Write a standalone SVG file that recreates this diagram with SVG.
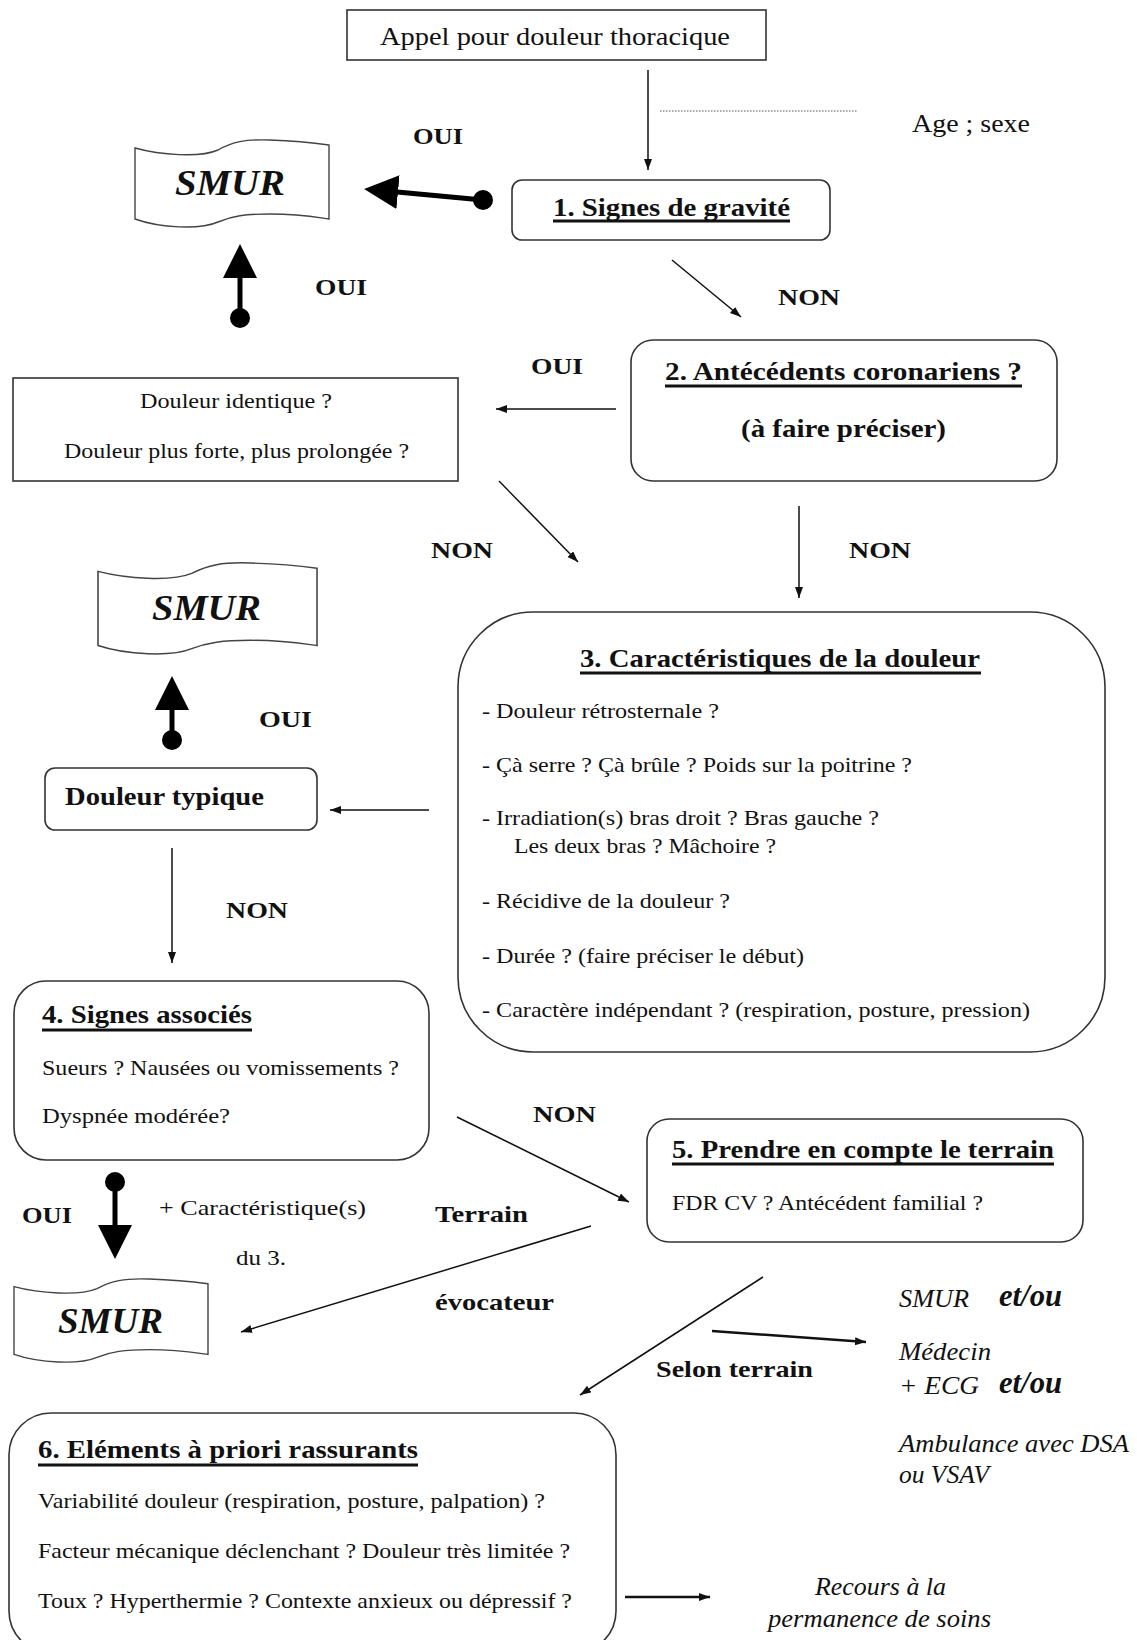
<svg xmlns="http://www.w3.org/2000/svg" width="1137" height="1640" viewBox="0 0 1137 1640">
<style>
text{font-family:"Liberation Serif","Times New Roman",serif;fill:#111}
.r{font-size:22px}
.b{font-size:25px;font-weight:bold}
.l{font-size:24px;font-weight:bold}
.it{font-size:25px;font-style:italic}
.eo{font-size:31px;font-style:italic;font-weight:bold}
.sm{font-size:36px;font-style:italic;font-weight:bold}
.box{fill:#fff;stroke:#333;stroke-width:1.6}
.flag{fill:#fff;stroke:#444;stroke-width:1.4}
.ul{stroke:#111;stroke-width:3}
.c{fill:none;stroke:#111;stroke-width:1.5}
.c2{fill:none;stroke:#111;stroke-width:2.4}
.tk{fill:none;stroke:#000;stroke-width:5}
.dot{fill:#000}
</style>
<defs>
<marker id="ah" markerUnits="userSpaceOnUse" markerWidth="12" markerHeight="10" refX="11" refY="4" orient="auto"><path d="M0,0 L11,4 L0,8 z" fill="#111"/></marker>
<marker id="th" markerUnits="userSpaceOnUse" markerWidth="36" markerHeight="36" refX="1" refY="17" orient="auto"><path d="M0,0 L34,17 L0,34 z" fill="#000"/></marker>
<path id="flagshape" d="M0,8 C25,15 65,18 83,10 C97,2 110,-1 135,0 C165,1 180,3 194,5 L194,79 C180,77 165,74 135,74 C110,74 97,76 83,82 C65,90 25,88 0,79 Z"/>
</defs>
<rect width="1137" height="1640" fill="#fff"/>

<g id="start">
<rect class="box" x="347" y="10" width="419" height="50"/>
<text class="r" style="font-size:26px" x="380" y="45" textLength="350" lengthAdjust="spacingAndGlyphs">Appel pour douleur thoracique</text>
</g>

<g id="age">
<text class="r" style="font-size:25px" x="912" y="132" textLength="118" lengthAdjust="spacingAndGlyphs">Age ; sexe</text>
</g>

<g id="n1">
<rect class="box" x="512" y="180" width="318" height="60" rx="10"/>
<text class="b" x="553" y="216" textLength="237" lengthAdjust="spacingAndGlyphs">1. Signes de gravité</text>
<line class="ul" x1="553" y1="221" x2="790" y2="221"/>
</g>

<g id="smur1">
<use href="#flagshape" class="flag" transform="translate(135,140)"/>
<text class="sm" x="175" y="195" textLength="110" lengthAdjust="spacingAndGlyphs">SMUR</text>
</g>

<g id="n2">
<rect class="box" x="631" y="340" width="426" height="141" rx="22"/>
<text class="b" x="665" y="380" textLength="357" lengthAdjust="spacingAndGlyphs">2. Antécédents coronariens ?</text>
<line class="ul" x1="665" y1="386" x2="1022" y2="386"/>
<text class="b" x="741" y="437" textLength="205" lengthAdjust="spacingAndGlyphs">(à faire préciser)</text>
</g>

<g id="identique">
<rect class="box" x="13" y="378" width="445" height="103"/>
<text class="r" style="font-size:21px" x="140" y="408" textLength="192" lengthAdjust="spacingAndGlyphs">Douleur identique ?</text>
<text class="r" style="font-size:21px" x="64" y="458" textLength="345" lengthAdjust="spacingAndGlyphs">Douleur plus forte, plus prolongée ?</text>
</g>

<g id="smur2">
<use href="#flagshape" class="flag" transform="translate(98,563) scale(1.129,1.045)" style="vector-effect:non-scaling-stroke"/>
<text class="sm" x="152" y="620" textLength="109" lengthAdjust="spacingAndGlyphs">SMUR</text>
</g>

<g id="n3">
<rect class="box" x="458" y="612" width="647" height="440" rx="75"/>
<text class="b" x="580" y="667" textLength="400" lengthAdjust="spacingAndGlyphs">3. Caractéristiques de la douleur</text>
<line class="ul" x1="580" y1="673" x2="981" y2="673"/>
<text class="r" x="482" y="718" textLength="237" lengthAdjust="spacingAndGlyphs">- Douleur rétrosternale ?</text>
<text class="r" x="482" y="772" textLength="430" lengthAdjust="spacingAndGlyphs">- Çà serre ?  Çà brûle ? Poids sur la poitrine ?</text>
<text class="r" x="482" y="825" textLength="397" lengthAdjust="spacingAndGlyphs">- Irradiation(s) bras droit ? Bras gauche ?</text>
<text class="r" x="514" y="853" textLength="262" lengthAdjust="spacingAndGlyphs">Les deux bras ? Mâchoire ?</text>
<text class="r" x="482" y="908" textLength="248" lengthAdjust="spacingAndGlyphs">- Récidive de la douleur ?</text>
<text class="r" x="482" y="963" textLength="322" lengthAdjust="spacingAndGlyphs">- Durée ? (faire préciser le début)</text>
<text class="r" x="482" y="1017" textLength="548" lengthAdjust="spacingAndGlyphs">- Caractère indépendant ? (respiration, posture, pression)</text>
</g>

<g id="typique">
<rect class="box" x="45" y="768" width="272" height="62" rx="10"/>
<text class="b" x="65" y="805" textLength="199" lengthAdjust="spacingAndGlyphs">Douleur typique</text>
</g>

<g id="n4">
<rect class="box" x="14" y="981" width="415" height="179" rx="32"/>
<text class="b" x="42" y="1023" textLength="210" lengthAdjust="spacingAndGlyphs">4. Signes associés</text>
<line class="ul" x1="42" y1="1030" x2="252" y2="1030"/>
<text class="r" x="42" y="1075" textLength="357" lengthAdjust="spacingAndGlyphs">Sueurs ? Nausées ou vomissements ?</text>
<text class="r" x="42" y="1123" textLength="188" lengthAdjust="spacingAndGlyphs">Dyspnée  modérée?</text>
</g>

<g id="n5">
<rect class="box" x="647" y="1119" width="436" height="123" rx="22"/>
<text class="b" x="672" y="1158" textLength="382" lengthAdjust="spacingAndGlyphs">5. Prendre en compte le terrain</text>
<line class="ul" x1="672" y1="1164" x2="1054" y2="1164"/>
<text class="r" x="672" y="1210" textLength="311" lengthAdjust="spacingAndGlyphs">FDR CV ? Antécédent familial ?</text>
</g>

<g id="smur3">
<use href="#flagshape" class="flag" transform="translate(14,1279) scale(1,0.955)" style="vector-effect:non-scaling-stroke"/>
<text class="sm" x="58" y="1333" textLength="105" lengthAdjust="spacingAndGlyphs">SMUR</text>
</g>

<g id="options">
<text class="it" x="899" y="1307" textLength="70" lengthAdjust="spacingAndGlyphs">SMUR</text>
<text class="eo" x="999" y="1306" textLength="63" lengthAdjust="spacingAndGlyphs">et/ou</text>
<text class="it" x="899" y="1360" textLength="92" lengthAdjust="spacingAndGlyphs">Médecin</text>
<text class="it" x="899" y="1394" textLength="80" lengthAdjust="spacingAndGlyphs">+ ECG</text>
<text class="eo" x="999" y="1393" textLength="63" lengthAdjust="spacingAndGlyphs">et/ou</text>
<text class="it" x="899" y="1452" textLength="230" lengthAdjust="spacingAndGlyphs">Ambulance avec DSA</text>
<text class="it" x="899" y="1483" textLength="90" lengthAdjust="spacingAndGlyphs">ou VSAV</text>
</g>

<g id="n6">
<rect class="box" x="9" y="1413" width="607" height="240" rx="42"/>
<text class="b" x="38" y="1458" textLength="380" lengthAdjust="spacingAndGlyphs">6. Eléments à priori rassurants</text>
<line class="ul" x1="38" y1="1465" x2="418" y2="1465"/>
<text class="r" x="38" y="1508" textLength="507" lengthAdjust="spacingAndGlyphs">Variabilité douleur (respiration, posture, palpation) ?</text>
<text class="r" x="38" y="1558" textLength="532" lengthAdjust="spacingAndGlyphs">Facteur mécanique déclenchant ? Douleur très limitée ?</text>
<text class="r" x="38" y="1608" textLength="534" lengthAdjust="spacingAndGlyphs">Toux ? Hyperthermie ? Contexte anxieux ou dépressif ?</text>
</g>

<g id="recours">
<text class="it" x="815" y="1595" textLength="131" lengthAdjust="spacingAndGlyphs">Recours à la</text>
<text class="it" x="768" y="1627" textLength="223" lengthAdjust="spacingAndGlyphs">permanence de soins</text>
</g>

<g id="connectors">
<line class="c" x1="648" y1="70" x2="648" y2="170" marker-end="url(#ah)"/>
<line x1="660" y1="111" x2="858" y2="111" stroke="#555" stroke-width="1.2" stroke-dasharray="1.5,1.5"/>
<line class="c" x1="672" y1="260" x2="741" y2="317" marker-end="url(#ah)"/>
<line class="c" x1="616" y1="409" x2="496" y2="409" marker-end="url(#ah)"/>
<line class="c" x1="499" y1="481" x2="578" y2="562" marker-end="url(#ah)"/>
<line class="c" x1="799" y1="506" x2="799" y2="598" marker-end="url(#ah)"/>
<line class="c" x1="429" y1="810" x2="330" y2="810" marker-end="url(#ah)"/>
<line class="c" x1="172" y1="848" x2="172" y2="963" marker-end="url(#ah)"/>
<line class="c" x1="457" y1="1117" x2="629" y2="1202" marker-end="url(#ah)"/>
<line class="c" x1="591" y1="1226" x2="241" y2="1332" marker-end="url(#ah)"/>
<line class="c" x1="763" y1="1277" x2="580" y2="1395" marker-end="url(#ah)"/>
<line class="c2" x1="712" y1="1331" x2="866" y2="1342" marker-end="url(#ah)"/>
<line class="c2" x1="625" y1="1597" x2="710" y2="1597" marker-end="url(#ah)"/>

<line class="tk" x1="483" y1="200" x2="397" y2="192" marker-end="url(#th)"/>
<circle class="dot" cx="483" cy="200" r="10"/>
<line class="tk" x1="240" y1="318" x2="240" y2="277" marker-end="url(#th)"/>
<circle class="dot" cx="240" cy="318" r="10"/>
<line class="tk" x1="172" y1="740" x2="172" y2="709" marker-end="url(#th)"/>
<circle class="dot" cx="172" cy="740" r="10"/>
<line class="tk" x1="115" y1="1182" x2="115" y2="1226" marker-end="url(#th)"/>
<circle class="dot" cx="115" cy="1182" r="10"/>

<text class="l" x="413" y="144" textLength="50" lengthAdjust="spacingAndGlyphs">OUI</text>
<text class="l" x="778" y="305" textLength="62" lengthAdjust="spacingAndGlyphs">NON</text>
<text class="l" x="315" y="295" textLength="52" lengthAdjust="spacingAndGlyphs">OUI</text>
<text class="l" x="531" y="374" textLength="52" lengthAdjust="spacingAndGlyphs">OUI</text>
<text class="l" x="431" y="558" textLength="62" lengthAdjust="spacingAndGlyphs">NON</text>
<text class="l" x="849" y="558" textLength="62" lengthAdjust="spacingAndGlyphs">NON</text>
<text class="l" x="259" y="727" textLength="53" lengthAdjust="spacingAndGlyphs">OUI</text>
<text class="l" x="226" y="918" textLength="62" lengthAdjust="spacingAndGlyphs">NON</text>
<text class="l" x="533" y="1122" textLength="63" lengthAdjust="spacingAndGlyphs">NON</text>
<text class="l" x="22" y="1223" textLength="50" lengthAdjust="spacingAndGlyphs">OUI</text>
<text class="r" x="159" y="1215" textLength="207" lengthAdjust="spacingAndGlyphs">+ Caractéristique(s)</text>
<text class="r" x="236" y="1265" textLength="50" lengthAdjust="spacingAndGlyphs">du 3.</text>
<text class="l" x="435" y="1222" textLength="93" lengthAdjust="spacingAndGlyphs">Terrain</text>
<text class="l" x="435" y="1310" textLength="119" lengthAdjust="spacingAndGlyphs">évocateur</text>
<text class="l" x="656" y="1377" textLength="157" lengthAdjust="spacingAndGlyphs">Selon terrain</text>
</g>
</svg>
